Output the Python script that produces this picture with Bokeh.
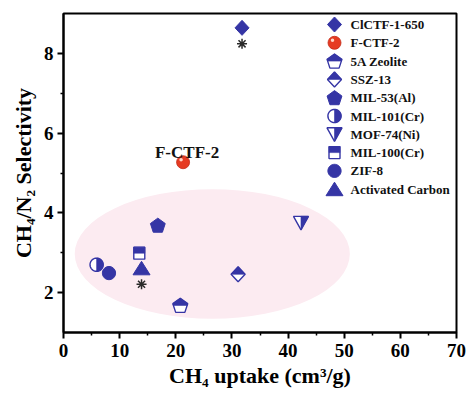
import math
from bokeh.plotting import figure
from bokeh.models import Range1d, FixedTicker
from bokeh.core.properties import value
from bokeh.embed import file_html
from bokeh.resources import INLINE

# ---------------- data ----------------
materials = ["ClCTF-1-650", "F-CTF-2", "5A Zeolite", "SSZ-13", "MIL-53(Al)",
             "MIL-101(Cr)", "MOF-74(Ni)", "MIL-100(Cr)", "ZIF-8", "Activated Carbon"]
ch4_uptake = [31.8, 21.3, 20.8, 31.1, 16.8, 5.9, 42.3, 13.5, 8.1, 13.9]
selectivity = [8.64, 5.27, 1.68, 2.46, 3.69, 2.70, 3.75, 2.99, 2.49, 2.61]
starred = ["ClCTF-1-650", "Activated Carbon"]
annotated = "F-CTF-2"
x_ticks = [0, 10, 20, 30, 40, 50, 60, 70]
y_ticks = [2, 4, 6, 8]
x_label = "CH\u2084 uptake (cm\u00b3/g)"
y_label = "CH\u2084/N\u2082 Selectivity"

# ---------------- styles ----------------
FONT = "Liberation Serif"
BLUE = "#3535a5"
RED = "#e63b22"
PINK = "#fcebf1"
X_RANGE = (0, 70)
Y_RANGE = (1, 9)
FW, FH = 393, 319          # frame size in px
kx = (X_RANGE[1] - X_RANGE[0]) / FW
ky = (Y_RANGE[1] - Y_RANGE[0]) / FH

region_center = (26.5, 2.97)
region_size = (49.0, 3.25)

marker_style = {
    "ClCTF-1-650": ("diamond", None),
    "F-CTF-2": ("sphere", None),
    "5A Zeolite": ("pentagon", "top"),
    "SSZ-13": ("diamond", "top"),
    "MIL-53(Al)": ("pentagon", None),
    "MIL-101(Cr)": ("circle", "right"),
    "MOF-74(Ni)": ("itriangle", "right"),
    "MIL-100(Cr)": ("square", "top"),
    "ZIF-8": ("circle", None),
    "Activated Carbon": ("triangle", None),
}


def shape_poly(shape):
    if shape == "diamond":
        return [(0, 7.5), (7, 0), (0, -7.5), (-7, 0)]
    if shape == "pentagon":
        R = 7.8
        return [(R * math.cos(math.radians(90 + 72 * k)),
                 R * math.sin(math.radians(90 + 72 * k)) - 0.7) for k in range(5)]
    if shape == "circle":
        r = 6.6
        return [(r * math.cos(2 * math.pi * k / 40), r * math.sin(2 * math.pi * k / 40))
                for k in range(40)]
    if shape == "square":
        return [(-5.5, -6), (5.5, -6), (5.5, 6), (-5.5, 6)]
    if shape == "triangle":
        return [(-8.5, -6.5), (8.5, -6.5), (0, 7)]
    if shape == "itriangle":
        return [(-7.5, 6.5), (7.5, 6.5), (0, -7)]
    return []


def clip(poly, axis, c):
    out = []
    n = len(poly)
    for i in range(n):
        P, Q = poly[i], poly[(i + 1) % n]
        inP, inQ = P[axis] >= c, Q[axis] >= c
        if inP:
            out.append(P)
        if inP != inQ:
            t = (c - P[axis]) / (Q[axis] - P[axis])
            out.append((P[0] + t * (Q[0] - P[0]), P[1] + t * (Q[1] - P[1])))
    return out


def draw_markers(p, names, xs, ys, sx, sy, **rng):
    full_x, full_y, open_x, open_y, half_x, half_y = [], [], [], [], [], []
    sph_x, sph_y = [], []
    for name, cx, cy in zip(names, xs, ys):
        shape, half = marker_style[name]
        if shape == "sphere":
            sph_x.append(cx)
            sph_y.append(cy)
            continue
        poly = shape_poly(shape)
        px = [cx + dx * sx for dx, dy in poly]
        py = [cy + dy * sy for dx, dy in poly]
        if half is None:
            full_x.append(px); full_y.append(py)
        else:
            open_x.append(px); open_y.append(py)
            hp = clip(poly, 1 if half == "top" else 0, 0.0)
            half_x.append([cx + dx * sx for dx, dy in hp])
            half_y.append([cy + dy * sy for dx, dy in hp])
    p.patches(open_x, open_y, fill_color="white", line_color=BLUE, line_width=1.4, **rng)
    p.patches(half_x, half_y, fill_color=BLUE, line_color=BLUE, line_width=0.6, **rng)
    p.patches(full_x, full_y, fill_color=BLUE, line_color=BLUE, line_width=1, **rng)
    if sph_x:
        p.scatter(sph_x, sph_y, marker="circle", size=13, fill_color=RED,
                  line_color="#c42a16", line_width=0.8, **rng)
        p.scatter([v - 2 * sx for v in sph_x], [v + 2.5 * sy for v in sph_y],
                  marker="circle", size=3.5, fill_color="#ffd6c8", line_color=None, **rng)


p = figure(frame_width=FW, frame_height=FH,
           x_range=Range1d(*X_RANGE), y_range=Range1d(*Y_RANGE),
           output_backend="svg", toolbar_location=None,
           min_border_left=63, min_border_right=12,
           min_border_top=13, min_border_bottom=62)
p.extra_x_ranges = {"px": Range1d(0, FW)}
p.extra_y_ranges = {"px": Range1d(0, FH)}
p.xgrid.grid_line_color = None
p.ygrid.grid_line_color = None
p.outline_line_color = "black"
p.outline_line_width = 2
p.background_fill_color = "white"
p.border_fill_color = "white"

# highlighted region
p.ellipse(x=[region_center[0]], y=[region_center[1]],
          width=[region_size[0]], height=[region_size[1]],
          fill_color=PINK, line_color=None)

# data markers
draw_markers(p, materials, ch4_uptake, selectivity, kx, ky)

# asterisks
st_x = [x for m, x in zip(materials, ch4_uptake) if m in starred]
st_y = [y - 16 * ky for m, y in zip(materials, selectivity) if m in starred]
p.scatter(st_x, st_y, marker="asterisk", size=10, line_color="#2a2a2a", line_width=1.5)

# annotation label
ax_ = [x for m, x in zip(materials, ch4_uptake) if m == annotated]
ay_ = [y for m, y in zip(materials, selectivity) if m == annotated]
p.text(x=ax_, y=ay_, text=[annotated], x_offset=4, y_offset=-10,
       text_align="center", text_baseline="alphabetic",
       text_font=value(FONT), text_font_style="bold", text_font_size="17px",
       text_color="#111111")

# manual legend (pixel coordinates of the frame)
LEG_MX, LEG_TX, LEG_TOP, LEG_STEP = 271, 287, 11, 18.3
leg_x = [LEG_MX] * len(materials)
leg_y = [FH - LEG_TOP - i * LEG_STEP for i in range(len(materials))]
draw_markers(p, materials, leg_x, leg_y, 1, 1, x_range_name="px", y_range_name="px")
p.text(x=[LEG_TX] * len(materials), y=leg_y, text=materials,
       x_range_name="px", y_range_name="px",
       text_font=value(FONT), text_font_style="bold", text_font_size="13px",
       text_baseline="middle", text_align="left", text_color="#111111")

# axes
p.xaxis.ticker = FixedTicker(ticks=x_ticks, minor_ticks=[t + 5 for t in x_ticks[:-1]])
p.yaxis.ticker = FixedTicker(ticks=y_ticks, minor_ticks=[t + 1 for t in y_ticks[:-1]])
p.xaxis.axis_label = x_label
p.yaxis.axis_label = y_label
for ax in (p.xaxis[0], p.yaxis[0]):
    ax.axis_line_width = 2
    ax.major_tick_line_width = 2
    ax.minor_tick_line_width = 1.5
    ax.major_tick_out = 6
    ax.major_tick_in = 0
    ax.minor_tick_out = 3
    ax.minor_tick_in = 0
    ax.major_label_text_font = FONT
    ax.major_label_text_font_style = "bold"
    ax.major_label_text_font_size = "19px"
    ax.major_label_text_color = "black"
    ax.axis_label_text_font = FONT
    ax.axis_label_text_font_style = "bold"
    ax.axis_label_text_font_size = "22px"
    ax.axis_label_text_color = "black"
p.xaxis.major_label_standoff = 5
p.xaxis.axis_label_standoff = 3
p.yaxis.major_label_standoff = 4
p.yaxis.axis_label_standoff = 5

open("out.html", "w").write(file_html(p, INLINE))
